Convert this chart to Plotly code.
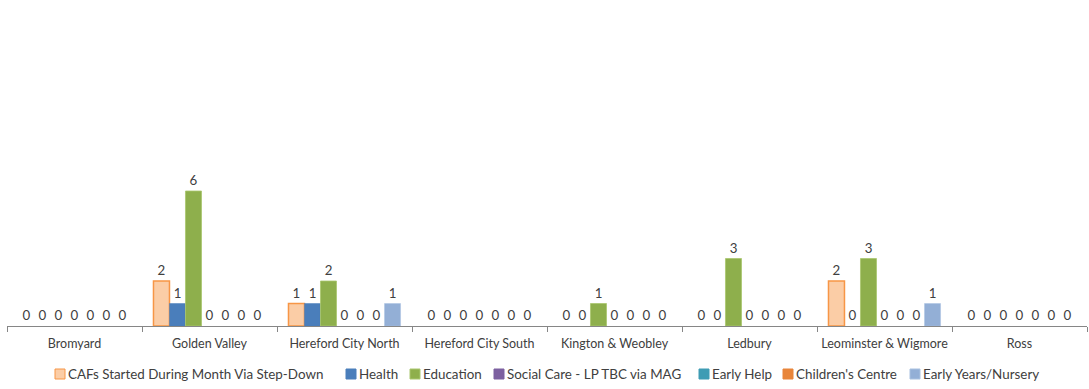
import plotly.graph_objects as go

categories = ["Bromyard", "Golden Valley", "Hereford City North", "Hereford City South",
              "Kington & Weobley", "Ledbury", "Leominster & Wigmore", "Ross"]
series_names = ["CAFs Started During Month Via Step-Down", "Health", "Education",
                "Social Care - LP TBC via MAG", "Early Help", "Children's Centre",
                "Early Years/Nursery"]
caf = [0, 2, 1, 0, 0, 0, 2, 0]
health = [0, 1, 1, 0, 0, 0, 0, 0]
education = [0, 6, 2, 0, 1, 3, 3, 0]
social_care = [0, 0, 0, 0, 0, 0, 0, 0]
early_help = [0, 0, 0, 0, 0, 0, 0, 0]
childrens_centre = [0, 0, 0, 0, 0, 0, 0, 0]
early_years = [0, 0, 1, 0, 0, 0, 1, 0]

values = [caf, health, education, social_care, early_help, childrens_centre, early_years]
fills = ["#FBCDA6", "#4A7EBB", "#8EAF4C", "#7D60A0", "#3E9CB4", "#E8853A", "#93AFD6"]
lines = ["#F79646", "#4A7EBB", "#A9C66E", "#7D60A0", "#3E9CB4", "#E8853A", "#A9C1E0"]
lwidth = [1.5, 0.5, 0.8, 0.5, 0.5, 0.5, 0.5]

# legend layout (pixel positions of swatch left edges in the 1089-wide page)
legend_px = [55, 346, 410, 494, 699, 783, 910]

W, H = 1089, 389
ML, MR, MT, MB = 7, 2, 11, 63
PW, PH = W - ML - MR, H - MT - MB

def px_to_paper_x(px):
    return (px - ML) / PW

def py_to_paper_y(py):
    return (H - MB - py) / PH

font = "Lato, 'Open Sans', sans-serif"
fig = go.Figure()
for name, v, f, lc, lw in zip(series_names, values, fills, lines, lwidth):
    fig.add_trace(go.Bar(
        x=categories, y=v, name=name,
        marker=dict(color=f, line=dict(color=lc, width=[lw if t > 0 else 0 for t in v])),
        text=[str(t) for t in v], textposition="outside", cliponaxis=False,
        textfont=dict(family=font, size=13.3, color="#404040"),
    ))

# manual single-row legend
shapes = []
annotations = []
ly = 374
for name, f, lc, lx in zip(series_names, fills, lines, legend_px):
    shapes.append(dict(type="rect", xref="paper", yref="paper",
                       x0=px_to_paper_x(lx), x1=px_to_paper_x(lx + 10),
                       y0=py_to_paper_y(ly + 5), y1=py_to_paper_y(ly - 5),
                       fillcolor=f, line=dict(color=lc, width=1)))
    annotations.append(dict(text=name, xref="paper", yref="paper",
                            x=px_to_paper_x(lx + 11), y=py_to_paper_y(ly),
                            xanchor="left", yanchor="middle", showarrow=False,
                            font=dict(family=font, size=13.4, color="#404040")))

fig.update_layout(
    width=W, height=H,
    margin=dict(l=ML, r=MR, t=MT, b=MB, autoexpand=False),
    paper_bgcolor="white", plot_bgcolor="white",
    barmode="group", bargap=0.17, bargroupgap=0,
    font=dict(family=font, color="#404040"),
    showlegend=False,
    shapes=shapes, annotations=annotations,
    xaxis=dict(showline=True, linecolor="#868686", linewidth=1,
               ticks="outside", ticklen=5, tickcolor="#868686", tickson="boundaries",
               tickangle=0, ticklabelstandoff=6,
               tickfont=dict(family=font, size=12.5, color="#404040"), showgrid=False),
    yaxis=dict(range=[0, 14], visible=False, showgrid=False, zeroline=False),
)
fig.write_html("out.html")
